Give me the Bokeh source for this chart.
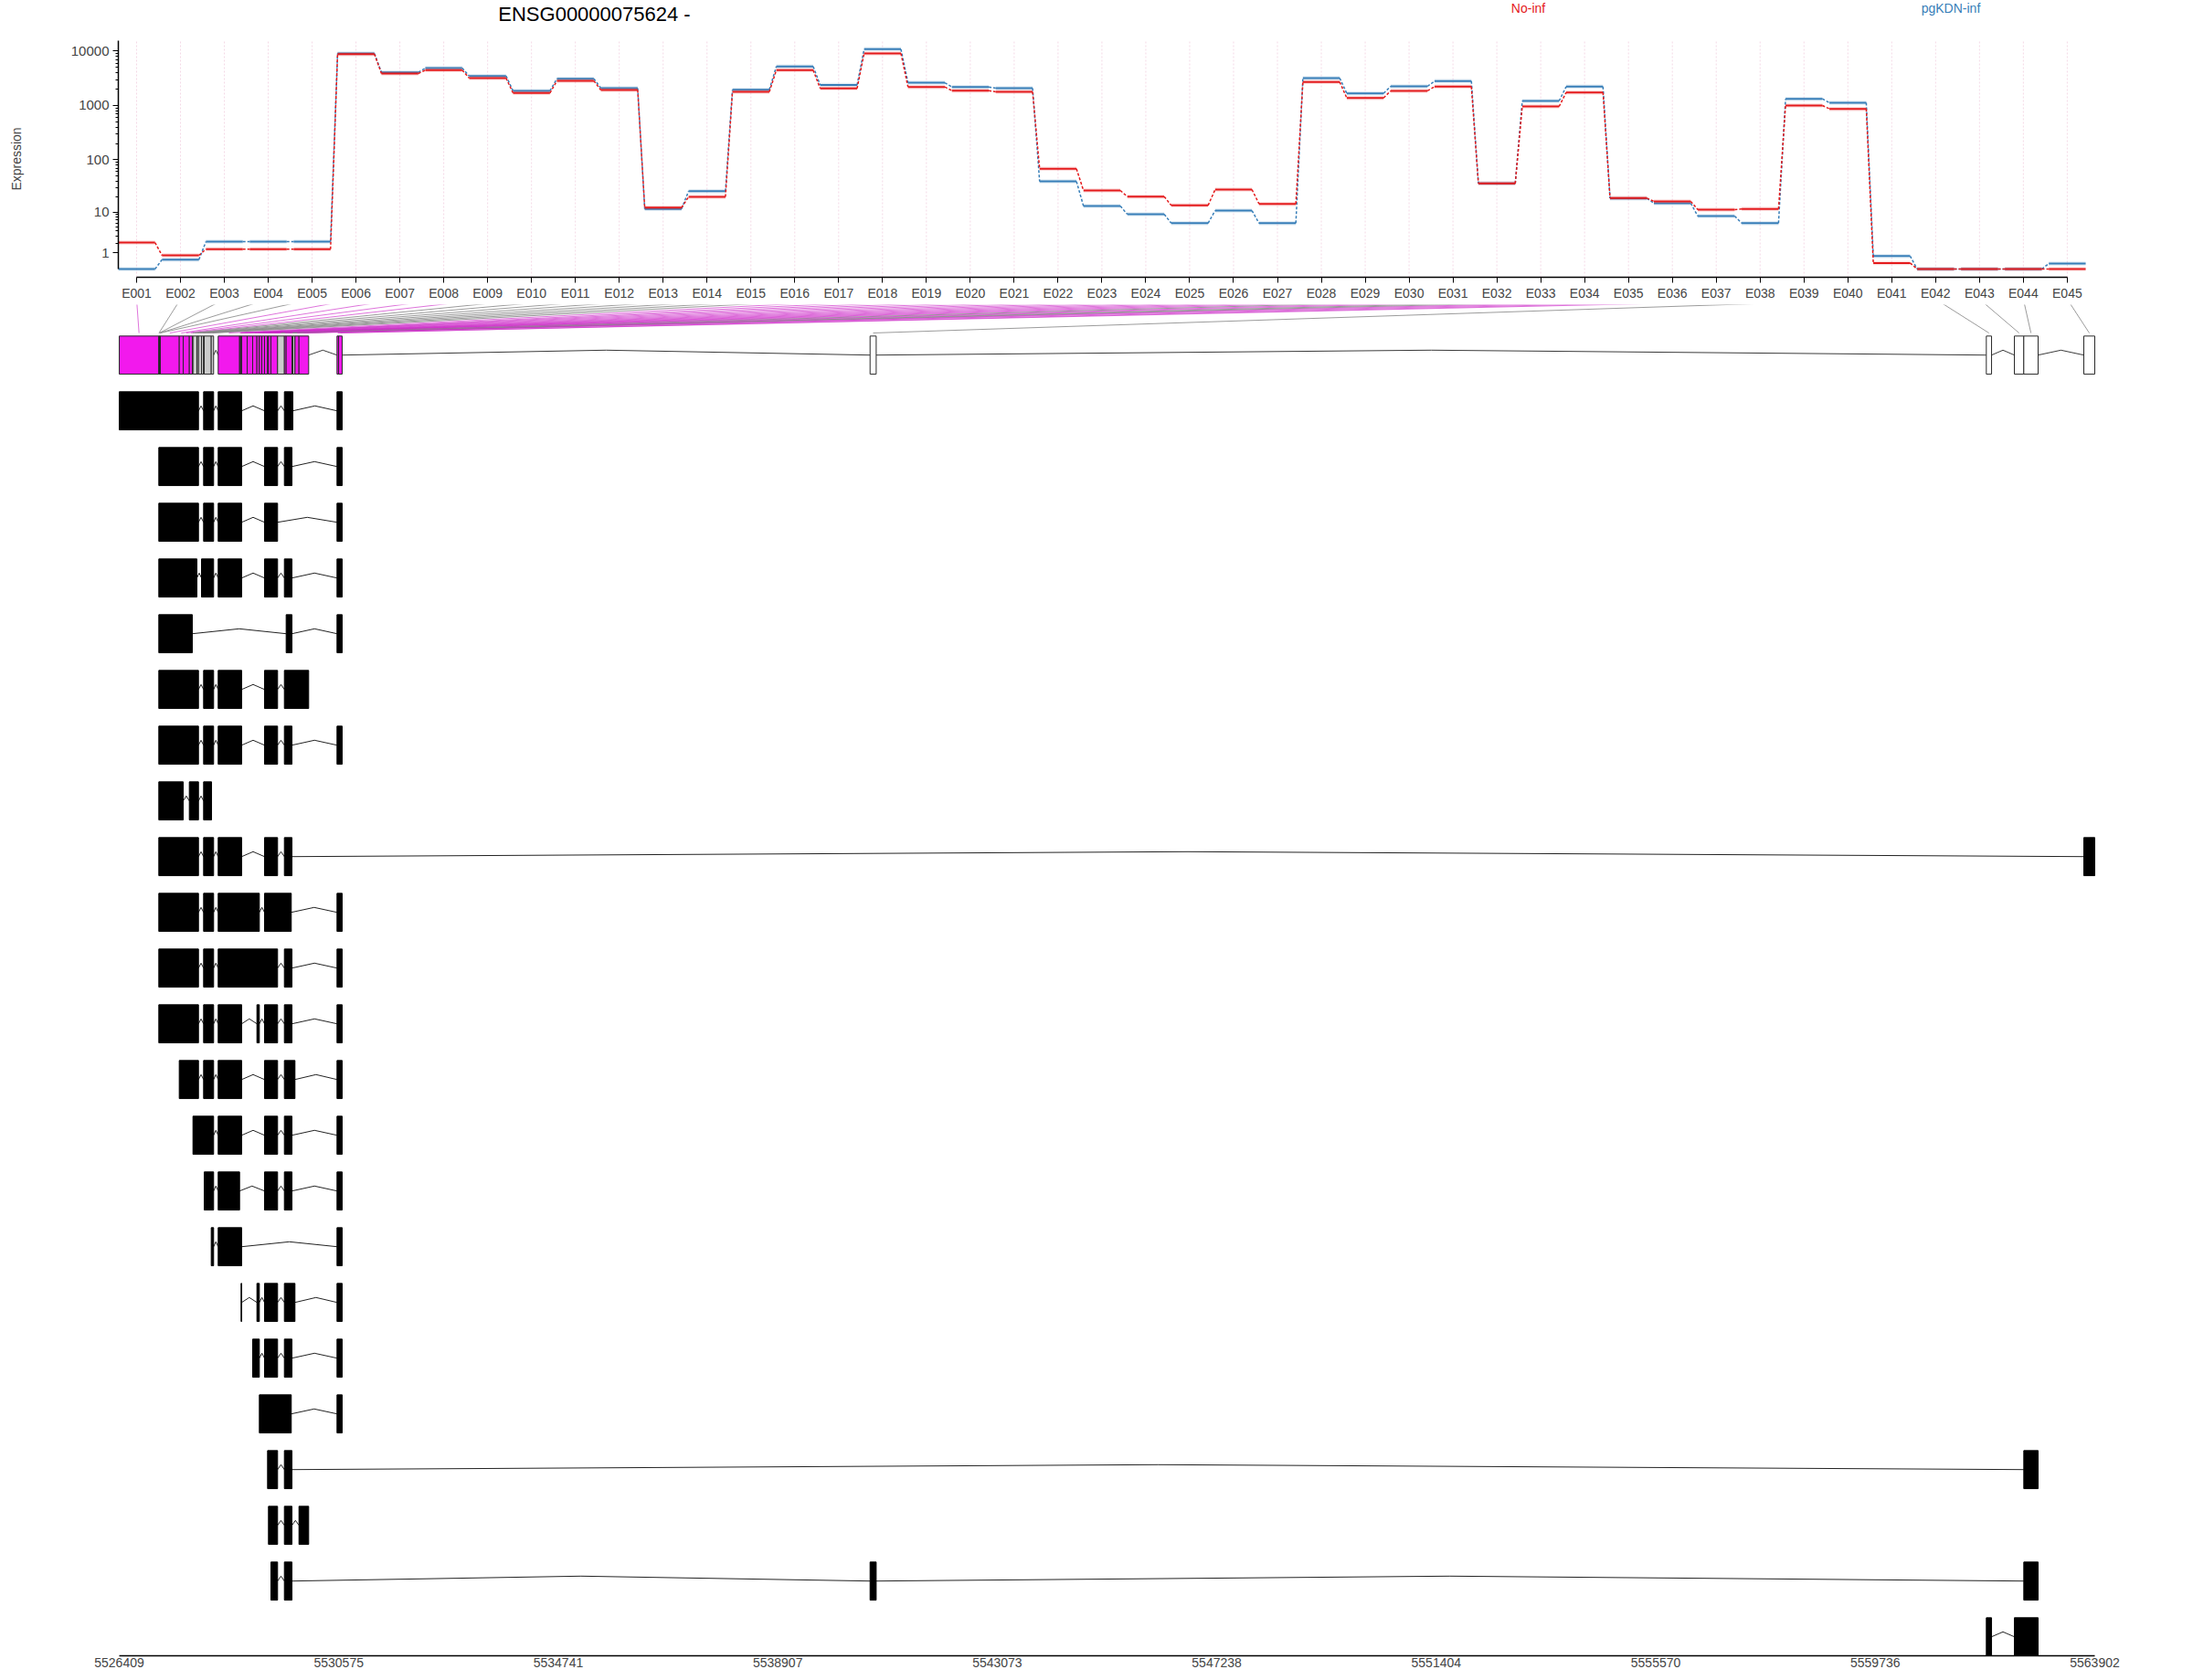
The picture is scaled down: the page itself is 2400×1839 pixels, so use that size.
import math
from bokeh.plotting import figure
from bokeh.models import Range1d, FixedTicker, CustomJSTickFormatter
from bokeh.layouts import column
from bokeh.embed import file_html
from bokeh.resources import INLINE
from bokeh.core.properties import value

FONT = "Liberation Sans"
RED = "#E41A1C"
BLUE = "#377EB8"
MAG = "#F219ED"
LGRAY = "#CCCCCC"

# ---------------- data ----------------
gene_title = "ENSG00000075624 -"
conditions = ["No-inf", "pgKDN-inf"]

exon_labels = ["E001", "E002", "E003", "E004", "E005", "E006", "E007", "E008", "E009", "E010",
               "E011", "E012", "E013", "E014", "E015", "E016", "E017", "E018", "E019", "E020",
               "E021", "E022", "E023", "E024", "E025", "E026", "E027", "E028", "E029", "E030",
               "E031", "E032", "E033", "E034", "E035", "E036", "E037", "E038", "E039", "E040",
               "E041", "E042", "E043", "E044", "E045"]

no_inf = [2.06, 0.78, 1.31, 1.31, 1.31, 8790, 3864, 4449, 3184, 1694,
          2833, 1927, 12.4, 20.1, 1782, 4449, 2056, 9016, 2191, 1878,
          1782, 67.9, 26.6, 20.3, 13.7, 27.7, 14.7, 2693, 1377, 1855,
          2218, 36.1, 960, 1737, 19.0, 16.4, 11.3, 11.6, 999, 868,
          0.29, 0, 0, 0, 0]

pgkdn_inf = [0, 0.49, 2.18, 2.18, 2.18, 9016, 4064, 4862, 3484, 1855,
             3103, 2083, 11.7, 25.9, 1950, 5190, 2371, 10814, 2620, 2191,
             2083, 39.5, 13.3, 9.1, 5.95, 10.8, 5.95, 3184, 1672, 2247,
             2799, 36.1, 1211, 2218, 18.8, 15.1, 8.37, 5.95, 1326, 1122,
             0.73, 0, 0, 0, 0.26]

y_tick_values = [1, 10, 100, 1000, 10000]

exon_start = [5526409, 5527160, 5527167, 5527174, 5527181, 5527189, 5527548, 5527623, 5527739, 5527796,
              5527808, 5527883, 5527913, 5527970, 5528010, 5528022, 5528155, 5528287, 5528693, 5528707,
              5528721, 5528733, 5528837, 5528941, 5529022, 5529068, 5529114, 5529166, 5529224, 5529241,
              5529288, 5529414, 5529543, 5529577, 5529687, 5529704, 5529744, 5529820, 5530542, 5530571,
              5540659, 5561844, 5562376, 5562555, 5563694]
exon_end = [5527160, 5527167, 5527174, 5527181, 5527189, 5527548, 5527623, 5527739, 5527796, 5527808,
            5527883, 5527913, 5527970, 5528010, 5528022, 5528155, 5528200, 5528693, 5528707, 5528721,
            5528733, 5528837, 5528941, 5529022, 5529068, 5529114, 5529166, 5529224, 5529241, 5529288,
            5529414, 5529543, 5529577, 5529687, 5529704, 5529744, 5529820, 5530004, 5530571, 5530640,
            5540775, 5561943, 5562555, 5562827, 5563902]
exon_status = ["sig", "ns", "ns", "ns", "ns", "sig", "sig", "sig", "sig", "ns",
               "ns", "ns", "ns", "ns", "ns", "ns", "ns", "sig", "sig", "sig",
               "sig", "sig", "sig", "sig", "sig", "sig", "sig", "sig", "sig", "sig",
               "sig", "ns", "sig", "sig", "ns", "ns", "sig", "sig", "sig", "sig",
               "na", "na", "na", "na", "na"]

tx01 = [(5526409, 5527913), (5528010, 5528200), (5528287, 5528733), (5529166, 5529414), (5529543, 5529704), (5530542, 5530640)]
tx02 = [(5527160, 5527913), (5528010, 5528200), (5528287, 5528733), (5529166, 5529414), (5529543, 5529687), (5530542, 5530640)]
tx03 = [(5527160, 5527913), (5528010, 5528200), (5528287, 5528733), (5529166, 5529414), (5530542, 5530640)]
tx04 = [(5527160, 5527883), (5527970, 5528200), (5528287, 5528733), (5529166, 5529414), (5529543, 5529687), (5530542, 5530640)]
tx05 = [(5527160, 5527796), (5529577, 5529687), (5530542, 5530640)]
tx06 = [(5527160, 5527913), (5528010, 5528200), (5528287, 5528733), (5529166, 5529414), (5529543, 5530004)]
tx07 = [(5527160, 5527913), (5528010, 5528200), (5528287, 5528733), (5529166, 5529414), (5529543, 5529687), (5530542, 5530640)]
tx08 = [(5527160, 5527623), (5527739, 5527913), (5528010, 5528161)]
tx09 = [(5527160, 5527913), (5528010, 5528200), (5528287, 5528733), (5529166, 5529414), (5529543, 5529687), (5563694, 5563902)]
tx10 = [(5527160, 5527913), (5528010, 5528200), (5528287, 5529068), (5529166, 5529674), (5530542, 5530640)]
tx11 = [(5527160, 5527913), (5528010, 5528200), (5528287, 5529414), (5529543, 5529687), (5530542, 5530640)]
tx12 = [(5527160, 5527913), (5528010, 5528200), (5528287, 5528733), (5529022, 5529068), (5529166, 5529414), (5529543, 5529687), (5530542, 5530640)]
tx13 = [(5527548, 5527913), (5528010, 5528200), (5528287, 5528733), (5529166, 5529414), (5529543, 5529744), (5530542, 5530640)]
tx14 = [(5527808, 5528200), (5528287, 5528733), (5529166, 5529414), (5529543, 5529687), (5530542, 5530640)]
tx15 = [(5528022, 5528200), (5528287, 5528693), (5529166, 5529414), (5529543, 5529687), (5530542, 5530640)]
tx16 = [(5528155, 5528200), (5528287, 5528733), (5530542, 5530640)]
tx17 = [(5528721, 5528733), (5529022, 5529068), (5529166, 5529414), (5529543, 5529744), (5530542, 5530640)]
tx18 = [(5528941, 5529068), (5529166, 5529414), (5529543, 5529687), (5530542, 5530640)]
tx19 = [(5529068, 5529674), (5530542, 5530640)]
tx20 = [(5529224, 5529414), (5529543, 5529687), (5562555, 5562827)]
tx21 = [(5529241, 5529414), (5529543, 5529687), (5529820, 5530004)]
tx22 = [(5529288, 5529414), (5529543, 5529687), (5540659, 5540775), (5562555, 5562827)]
tx23 = [(5561844, 5561943), (5562376, 5562827)]
transcripts = [tx01, tx02, tx03, tx04, tx05, tx06, tx07, tx08, tx09, tx10, tx11, tx12,
               tx13, tx14, tx15, tx16, tx17, tx18, tx19, tx20, tx21, tx22, tx23]

genomic_ticks = [5526409, 5530575, 5534741, 5538907, 5543073, 5547238, 5551404, 5555570, 5559736, 5563902]

# ---------------- layout constants (shared frame columns) ----------------
W = 2400
LEFT, FW = 129, 2171
RIGHT = W - LEFT - FW
H0 = 44                    # header strip (title + legend)
F1_H, F1_BOTTOM = 259, 30  # expression frame 44..303
F2_H, F2_BOTTOM = 1479, 20 # gene model frame 333..1812

def tr(v):
    return math.log10(v + 1)

x1 = Range1d(0.5835, 45.794)
idx = list(range(1, len(exon_labels) + 1))

# ---------------- header (title + condition legend) ----------------
p0 = figure(width=W, height=H0, x_range=x1, y_range=Range1d(H0, 0),
            x_axis_location=None, y_axis_location=None,
            min_border_left=LEFT, min_border_right=RIGHT, min_border_top=0, min_border_bottom=0,
            output_backend="svg", toolbar_location=None)
p0.outline_line_color = None
p0.grid.visible = False
p0.text(x=[11.433], y=[14.7], text=[gene_title], text_font=value(FONT),
        text_font_size="22px", text_align="center", text_baseline="middle", text_color="black")
p0.text(x=[32.717, 42.347], y=[8.8, 8.8], text=conditions, text_color=[RED, BLUE],
        text_font=value(FONT), text_font_size="14px", text_align="center", text_baseline="middle")

# ---------------- expression panel ----------------
y_top = 4.19
y1 = Range1d(-0.1508, y_top)
p1 = figure(width=W, height=F1_H + F1_BOTTOM, x_range=x1, y_range=y1,
            min_border_left=LEFT, min_border_right=RIGHT,
            min_border_top=0, min_border_bottom=F1_BOTTOM,
            output_backend="svg", toolbar_location=None)
p1.outline_line_color = None
p1.xgrid.visible = False
p1.ygrid.visible = False

p1.segment(x0=idx, x1=idx, y0=[y1.start] * len(idx), y1=[y_top] * len(idx),
           line_color="#F4D9E6", line_dash="2 2", line_width=1)

half = 0.42
for vals, col in [(pgkdn_inf, BLUE), (no_inf, RED)]:
    t = [tr(v) for v in vals]
    p1.segment(x0=[i + half for i in idx[:-1]], x1=[i + 1 - half for i in idx[:-1]],
               y0=t[:-1], y1=t[1:], line_color=col, line_width=1.5, line_dash="3 2")
    p1.segment(x0=[i - half for i in idx], x1=[i + half for i in idx],
               y0=t, y1=t, line_color=col, line_width=4.5, line_alpha=0.15)
    p1.segment(x0=[i - half for i in idx], x1=[i + half for i in idx],
               y0=t, y1=t, line_color=col, line_width=2)

ya = p1.yaxis[0]
ya.ticker = FixedTicker(ticks=[tr(v) for v in y_tick_values],
                        minor_ticks=[tr(m * 10 ** k) for k in range(4) for m in range(2, 10)])
ya.formatter = CustomJSTickFormatter(code="return String(Math.round(Math.pow(10, tick) - 1));")
ya.bounds = (0, y_top)
ya.axis_label = "Expression"
ya.axis_label_text_font = FONT
ya.axis_label_text_font_size = "14px"
ya.axis_label_text_font_style = "normal"
ya.axis_label_standoff = 49
ya.major_label_text_font = FONT
ya.major_label_text_font_size = "15px"
ya.major_label_standoff = 4
ya.major_tick_out = 6
ya.major_tick_in = 0
ya.minor_tick_out = 3
ya.minor_tick_in = 0
ya.axis_line_width = 1.5

xa = p1.xaxis[0]
xa.ticker = FixedTicker(ticks=idx)
xa.formatter = CustomJSTickFormatter(args=dict(labels=exon_labels),
                                     code="return labels[Math.round(tick) - 1] || '';")
xa.bounds = (1, len(idx))
xa.major_label_text_font = FONT
xa.major_label_text_font_size = "14px"
xa.major_label_standoff = 3
xa.major_tick_out = 6
xa.major_tick_in = 0
xa.minor_tick_line_color = None
xa.axis_line_width = 1.5

# ---------------- gene model + transcripts panel ----------------
x2 = Range1d(5526391.66, 5564040.74)
y2 = Range1d(-23.341, 0.9049)
p2 = figure(width=W, height=F2_H + F2_BOTTOM, x_range=x2, y_range=y2, y_axis_location=None,
            min_border_left=LEFT, min_border_right=RIGHT,
            min_border_top=0, min_border_bottom=F2_BOTTOM,
            output_backend="svg", toolbar_location=None)
p2.outline_line_color = None
p2.xgrid.visible = False
p2.ygrid.visible = False

h = 0.3418
rise = 0.0885

def label_to_genomic(i):
    frac = (i - x1.start) / (x1.end - x1.start)
    return x2.start + frac * (x2.end - x2.start)

fan_x0 = [label_to_genomic(i) for i in idx]
fan_x1 = [(s + e) / 2 for s, e in zip(exon_start, exon_end)]
fan_col = ["#CC2AC8" if st == "sig" else "#8A8A8A" for st in exon_status]
fan_alpha = [0.65 if st == "sig" else 0.85 for st in exon_status]
p2.segment(x0=fan_x0, y0=[1.0033] * len(idx), x1=fan_x1, y1=[0.3967] * len(idx),
           line_color=fan_col, line_alpha=fan_alpha, line_width=1)

groups = []
for s, e in zip(exon_start, exon_end):
    if groups and s <= groups[-1][1]:
        groups[-1][1] = max(groups[-1][1], e)
    else:
        groups.append([s, e])
gx, gy = [], []
for a, b in zip(groups[:-1], groups[1:]):
    gx.append([a[1], (a[1] + b[0]) / 2, b[0]])
    gy.append([0, rise, 0])
p2.multi_line(xs=gx, ys=gy, line_color="#3A3A3A", line_width=1)

fill = [MAG if st == "sig" else (LGRAY if st == "ns" else "white") for st in exon_status]
p2.quad(left=exon_start, right=exon_end, bottom=[-h] * len(idx), top=[h] * len(idx),
        fill_color=fill, line_color="#2A2A2A", line_width=1)

ql, qr, qb, qt = [], [], [], []
ix, iy = [], []
for k, tx in enumerate(transcripts, start=1):
    for s, e in tx:
        ql.append(s); qr.append(e); qb.append(-k - h); qt.append(-k + h)
    for (s1, e1), (s2, e2) in zip(tx[:-1], tx[1:]):
        ix.append([e1, (e1 + s2) / 2, s2])
        iy.append([-k, -k + rise, -k])
p2.multi_line(xs=ix, ys=iy, line_color="#222222", line_width=1)
p2.quad(left=ql, right=qr, bottom=qb, top=qt, fill_color="black", line_color="black", line_width=1)

ga = p2.xaxis[0]
ga.ticker = FixedTicker(ticks=genomic_ticks)
ga.formatter = CustomJSTickFormatter(code="return String(Math.round(tick));")
ga.bounds = (genomic_ticks[0], genomic_ticks[-1])
ga.major_tick_out = 0
ga.major_tick_in = 0
ga.minor_tick_line_color = None
ga.major_label_standoff = 2
ga.major_label_text_font = FONT
ga.major_label_text_font_size = "14px"
ga.axis_line_width = 1.5

layout = column(p0, p1, p2)
open("out.html", "w").write(file_html(layout, INLINE))
